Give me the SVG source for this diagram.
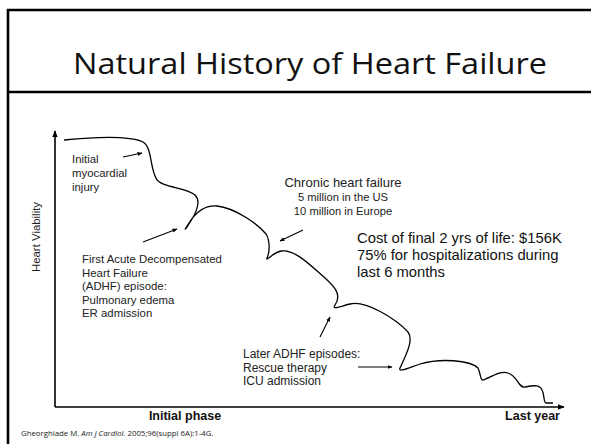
<svg xmlns="http://www.w3.org/2000/svg" width="591" height="444" viewBox="0 0 591 444">
<style>
.frame{fill:none;stroke:#000;stroke-width:2.6}
.axis{fill:none;stroke:#000;stroke-width:1.6}
.curve{fill:none;stroke:#000;stroke-width:1.3}
.arr{fill:none;stroke:#000;stroke-width:1.1}
.t{font-family:"Liberation Sans",Arial,sans-serif;font-size:11.4px;fill:#222}
.l{font-family:"Liberation Sans",Arial,sans-serif;font-size:12px;fill:#222}
.h{font-family:"Liberation Sans",Arial,sans-serif;font-size:13px;fill:#222}
.s{font-family:"Liberation Sans",Arial,sans-serif;font-size:11.2px;fill:#222}
.c{font-family:"Liberation Sans",Arial,sans-serif;font-size:14.8px;fill:#111}
.b{font-family:"Liberation Sans",Arial,sans-serif;font-size:12.5px;font-weight:bold;fill:#111}
.title{font-family:"Open Sans","Noto Sans",sans-serif;font-size:30px;fill:#111}
.cite{font-family:"Open Sans","Noto Sans",sans-serif;font-size:7.8px;fill:#222}
</style>
<defs>
<marker id="ah" viewBox="0 0 10 10" refX="9" refY="5" markerWidth="5" markerHeight="5" orient="auto" markerUnits="userSpaceOnUse">
<path d="M0,1 L10,5 L0,9 Z" fill="#000"/>
</marker>
<marker id="axh" viewBox="0 0 10 10" refX="9" refY="5" markerWidth="7" markerHeight="7" orient="auto" markerUnits="userSpaceOnUse">
<path d="M0,1 L10,5 L0,9 Z" fill="#000"/>
</marker>
</defs>
<rect width="591" height="444" fill="#fff"/>
<g id="frame">
<path class="frame" d="M8,444 V10 H600"/>
<path class="frame" d="M8,92 H600"/>
</g>
<g id="title"><text class="title" x="310" y="74" text-anchor="middle" textLength="474" lengthAdjust="spacingAndGlyphs">Natural History of Heart Failure</text></g>
<g id="axes">
<path class="axis" d="M55,407 V131" marker-end="url(#axh)"/>
<path class="axis" d="M55,407 H564" marker-end="url(#axh)"/>
<text class="t" transform="translate(40,237) rotate(-90)" text-anchor="middle">Heart Viability</text>
<text class="b" x="185" y="420" text-anchor="middle">Initial phase</text>
<text class="b" x="560" y="420" text-anchor="end">Last year</text>
</g>
<g id="curve">
<path class="curve" d="M64,140 C95,137 130,136 143,142 C152,147 150,168 156,178 C160,188 186,187 195,195 C203,203 193,218 187,227 C184,231 185,229 189,223 C196,212 205,205 217,206 C235,208 258,224 266,234 C270,240 270,252 267,258 C266,262 272,253 281,251 C295,249 310,265 325,278 C335,287 342,295 335,305 C332,310 338,307 350,304 C365,300 395,318 408,332 C414,340 406,355 400,368 C398,373 408,368 420,364 C440,358 470,360 478,368 C481,374 480,380 483,380 C490,378 500,370 508,373 C518,376 518,388 525,387 C535,385 540,385 542,390 C545,395 543,402 546,403 L553,403"/>
</g>
<g id="connectors">
<path class="arr" d="M123,157 L142,153" marker-end="url(#ah)"/>
<path class="arr" d="M143,242 L177,229" marker-end="url(#ah)"/>
<path class="arr" d="M303,230 L280,241" marker-end="url(#ah)"/>
<path class="arr" d="M320,337 L330,317" marker-end="url(#ah)"/>
<path class="arr" d="M358,367 L392,367" marker-end="url(#ah)"/>
</g>
<g id="n-initial">
<text class="t" x="72" y="163">Initial</text>
<text class="t" x="72" y="177">myocardial</text>
<text class="t" x="72" y="191">injury</text>
</g>
<g id="n-first">
<text class="t" x="82" y="263">First Acute Decompensated</text>
<text class="t" x="82" y="277">Heart Failure</text>
<text class="t" x="82" y="290">(ADHF) episode:</text>
<text class="t" x="82" y="304">Pulmonary edema</text>
<text class="t" x="82" y="317">ER admission</text>
</g>
<g id="n-chronic">
<text class="h" x="343" y="187" text-anchor="middle">Chronic heart failure</text>
<text class="s" x="343" y="201" text-anchor="middle">5 million in the US</text>
<text class="s" x="343" y="215" text-anchor="middle">10 million in Europe</text>
</g>
<g id="n-cost">
<text class="c" x="357" y="243">Cost of final 2 yrs of life: $156K</text>
<text class="c" x="357" y="260">75% for hospitalizations during</text>
<text class="c" x="357" y="277">last 6 months</text>
</g>
<g id="n-later">
<text class="l" x="243" y="358">Later ADHF episodes:</text>
<text class="l" x="243" y="372">Rescue therapy</text>
<text class="l" x="243" y="385">ICU admission</text>
</g>
<g id="citation">
<text class="cite" x="21" y="436">Gheorghiade M. <tspan font-style="italic">Am J Cardiol.</tspan> 2005;96(suppl 6A):1-4G.</text>
</g>
</svg>
